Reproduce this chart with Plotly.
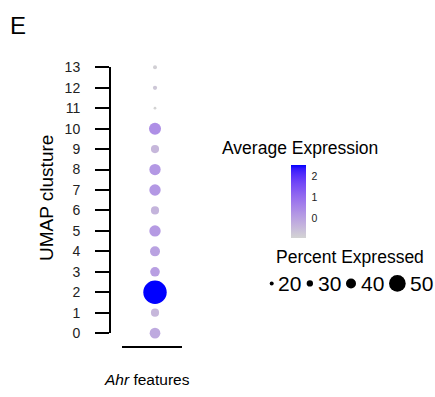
import plotly.graph_objects as go

# ---------------- data ----------------
clusters = list(range(14))
avg_expression = [-0.15, -0.40, 2.55, 0.05, 0.00, 0.15, -0.35, 0.20, 0.20, -0.40, 0.35, -0.93, -0.70, -0.85]
pct_expressed = [41, 35, 60, 39, 40, 42, 35, 42, 42, 35, 43, 15, 21, 20]
feature = "Ahr"
legend_pcts = [20, 30, 40, 50]
legend_labels = ["20", "30", "40", "50"]
cbar_ticks = [0, 1, 2]

# ---------------- styles ----------------
W, H = 435, 397
FONT = "Arial, Liberation Sans, sans-serif"
SIZE_PCT_REF = [10, 20, 30, 40, 50, 60, 70]
SIZE_PX_REF = [1.5, 4.0, 6.3, 10.0, 16.7, 23.4, 30.0]


def px_x(v):
    return v / W


def px_y(v):
    return 1 - v / H


def size_of(p):
    import numpy as np
    return float(np.interp(p, SIZE_PCT_REF, SIZE_PX_REF))


# Lab-interpolated gradient lightgrey -> blue (like ggplot scale_colour_gradient)
def _lin(c):
    c = c / 255
    return c / 12.92 if c <= 0.04045 else ((c + 0.055) / 1.055) ** 2.4


def _gam(c):
    c = 12.92 * c if c <= 0.0031308 else 1.055 * c ** (1 / 2.4) - 0.055
    return max(0, min(255, round(c * 255)))


def to_lab(rgb):
    r, g, b = [_lin(c) for c in rgb]
    X = (0.4124 * r + 0.3576 * g + 0.1805 * b) / 0.95047
    Y = 0.2126 * r + 0.7152 * g + 0.0722 * b
    Z = (0.0193 * r + 0.1192 * g + 0.9505 * b) / 1.08883
    f = lambda t: t ** (1 / 3) if t > 0.008856 else 7.787 * t + 16 / 116
    fx, fy, fz = f(X), f(Y), f(Z)
    return (116 * fy - 16, 500 * (fx - fy), 200 * (fy - fz))


def from_lab(lab):
    L, a, bb = lab
    fy = (L + 16) / 116
    fx = fy + a / 500
    fz = fy - bb / 200
    fi = lambda t: t ** 3 if t ** 3 > 0.008856 else (t - 16 / 116) / 7.787
    X, Y, Z = fi(fx) * 0.95047, fi(fy), fi(fz) * 1.08883
    r = 3.2406 * X - 1.5372 * Y - 0.4986 * Z
    g = -0.9689 * X + 1.8758 * Y + 0.0415 * Z
    b = 0.0557 * X - 0.2040 * Y + 1.0570 * Z
    return "rgb(%d,%d,%d)" % (_gam(r), _gam(g), _gam(b))


lo, hi = to_lab((211, 211, 211)), to_lab((0, 0, 255))
NSTOP = 20
colorscale = []
for i in range(NSTOP + 1):
    t = i / NSTOP
    colorscale.append([t, from_lab(tuple(lo[k] + (hi[k] - lo[k]) * t for k in range(3)))])

cmin, cmax = min(avg_expression), max(avg_expression)

fig = go.Figure()

fig.add_trace(go.Scatter(
    x=[feature] * len(clusters), y=clusters, mode="markers",
    marker=dict(
        size=[size_of(p) for p in pct_expressed],
        color=avg_expression, colorscale=colorscale, cmin=cmin, cmax=cmax,
        line=dict(width=0), opacity=1,
        colorbar=dict(
            x=px_x(291), xanchor="left", xpad=0,
            y=px_y(163.3), yanchor="top", ypad=0,
            lenmode="pixels", len=73.4, thicknessmode="pixels", thickness=15,
            outlinewidth=0, tickvals=cbar_ticks, ticks="outside", ticklen=4,
            tickcolor="rgba(0,0,0,0)",
            tickfont=dict(family=FONT, size=10.5, color="#222"),
        ),
    ),
    cliponaxis=False, showlegend=False, hoverinfo="skip",
))

# size legend keys
radii = [size_of(p) / 2 for p in legend_pcts]
xs = [271.7]
for i in range(1, len(legend_pcts)):
    xs.append(xs[-1] + radii[i - 1] + radii[i] + 33.0)
LEG_Y = 287
fig.add_trace(go.Scatter(
    x=xs, y=[LEG_Y] * len(xs), xaxis="x2", yaxis="y2", mode="markers",
    marker=dict(size=[size_of(p) for p in legend_pcts], color="black",
                line=dict(width=0), opacity=1),
    cliponaxis=False, showlegend=False, hoverinfo="skip",
))

annotations = []
for x, r, lab in zip(xs, radii, legend_labels):
    annotations.append(dict(x=x + r + 2.5, y=LEG_Y, xref="x2", yref="y2", text=lab,
                            showarrow=False, xanchor="left", yanchor="middle",
                            font=dict(family=FONT, size=21, color="black")))

annotations += [
    dict(x=px_x(8), y=px_y(18), xref="paper", yref="paper", text="E", showarrow=False,
         xanchor="left", yanchor="middle", font=dict(family=FONT, size=24, color="black")),
    dict(x=px_x(46), y=px_y(198), xref="paper", yref="paper", text="UMAP clusture",
         showarrow=False, textangle=-90, xanchor="center", yanchor="middle",
         font=dict(family=FONT, size=19, color="black")),
    dict(x=px_x(147), y=px_y(387), xref="paper", yref="paper",
         text="<i>%s</i> features" % feature, showarrow=False, xanchor="center",
         yanchor="middle", font=dict(family=FONT, size=15.5, color="black")),
    dict(x=px_x(220), y=px_y(146), xref="paper", yref="paper", text="Average Expression",
         showarrow=False, xanchor="left", yanchor="middle",
         font=dict(family=FONT, size=17.5, color="black")),
    dict(x=px_x(274), y=px_y(259), xref="paper", yref="paper", text="Percent Expressed",
         showarrow=False, xanchor="left", yanchor="middle",
         font=dict(family=FONT, size=17.5, color="black")),
]

fig.update_layout(
    width=W, height=H, margin=dict(l=0, r=0, t=0, b=0),
    paper_bgcolor="white", plot_bgcolor="rgba(0,0,0,0)",
    font=dict(family=FONT, color="black"),
    xaxis=dict(domain=[px_x(121.7), px_x(181.7)], range=[-0.555, 0.445],
               anchor="free", position=px_y(353.3), showline=True, linecolor="black",
               linewidth=2, ticks="", showticklabels=False, showgrid=False, zeroline=False,
               fixedrange=True),
    yaxis=dict(domain=[px_y(338.8), px_y(61.8)], range=[0, 13], anchor="free",
               position=px_x(110), showline=True, linecolor="black", linewidth=2,
               tickvals=clusters, ticktext=[str(c) for c in clusters], ticks="outside",
               ticklen=14, tickwidth=2, tickcolor="black", ticklabelstandoff=12,
               tickfont=dict(family=FONT, size=14, color="#222"),
               showgrid=False, zeroline=False, fixedrange=True),
    xaxis2=dict(domain=[0, 1], range=[0, W], visible=False, anchor="y2", fixedrange=True),
    yaxis2=dict(domain=[0, 1], range=[H, 0], visible=False, anchor="x2", fixedrange=True),
    annotations=annotations,
)

fig.write_html("out.html")
